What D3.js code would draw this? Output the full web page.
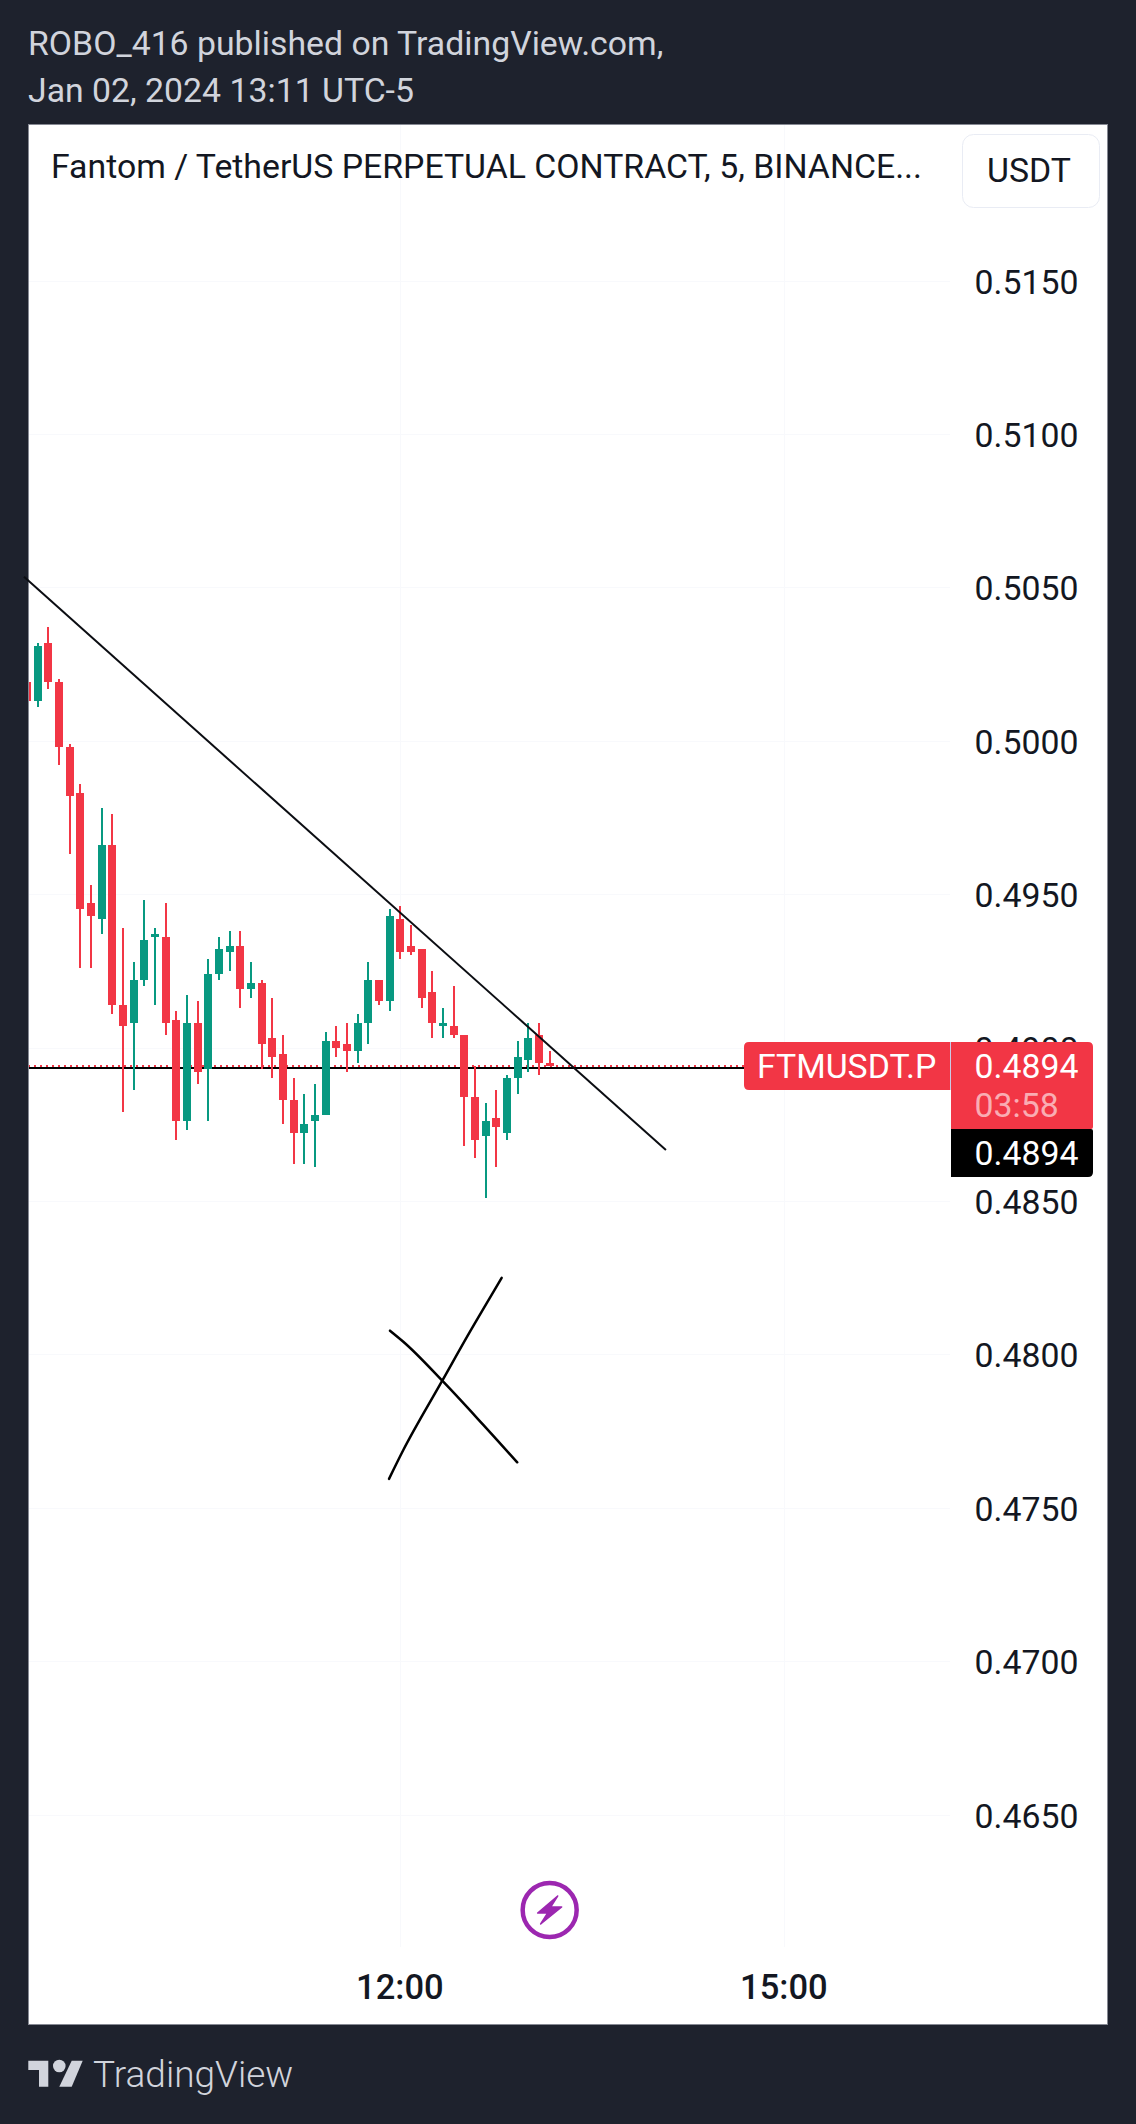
<!DOCTYPE html>
<html><head><meta charset="utf-8">
<script src="https://cdnjs.cloudflare.com/ajax/libs/d3/7.8.5/d3.min.js"></script>
<style>
html,body{margin:0;padding:0;background:#1e222d;width:1136px;height:2124px;overflow:hidden}
svg{display:block}
text{font-family:Roboto,sans-serif}
</style></head><body>
<svg id="c" width="1136" height="2124"></svg>
<script>
// ---- data ----
const opens=[.5019,.5013,.5032,.5019,.4998,.4983,.4947,.4942,.4966,.4914,.4908,.4922,.4936,.4936,.4909,.4876,.4908,.4893,.4924,.4931,.4933,.4919,.4921,.4903,.4898,.4883,.4872,.4876,.4878,.4902,.4901,.4899,.4908,.4922,.4915,.4942,.4933,.4932,.4918,.4908,.4907,.4904,.4884,.4871,.4877,.4872,.4890,.4896,.4904,.4895];
const closes=[.5013,.5031,.5019,.4998,.4982,.4945,.4943,.4966,.4914,.4907,.4922,.4935,.4937,.4908,.4876,.4908,.4892,.4924,.4932,.4933,.4919,.4921,.4901,.4897,.4883,.4872,.4875,.4878,.4902,.4900,.4899,.4908,.4922,.4915,.4943,.4931,.4931,.4916,.4908,.4908,.4904,.4884,.4870,.4876,.4874,.4890,.4897,.4903,.4895,.4894];
const highs=[.5019,.5032,.5037,.5020,.4999,.4986,.4953,.4978,.4976,.4939,.4928,.4948,.4939,.4947,.4912,.4917,.4915,.4929,.4936,.4938,.4938,.4928,.4922,.4916,.4904,.4890,.4885,.4888,.4905,.4907,.4908,.4911,.4928,.4922,.4945,.4946,.4940,.4932,.4925,.4913,.4920,.4904,.4894,.4882,.4886,.4891,.4902,.4908,.4908,.4899];
const lows=[.5013,.5011,.5017,.4992,.4963,.4926,.4926,.4937,.4911,.4879,.4886,.4920,.4914,.4904,.4870,.4873,.4888,.4876,.4922,.4925,.4913,.4916,.4893,.4890,.4875,.4862,.4862,.4861,.4878,.4897,.4892,.4895,.4901,.4914,.4912,.4929,.4930,.4913,.4903,.4903,.4903,.4868,.4864,.4851,.4861,.4870,.4885,.4892,.4891,.4894];
const priceTicks=[.4650,.4700,.4750,.4800,.4850,.4900,.4950,.5000,.5050,.5100,.5150];
const timeTickBars=[35,71];
const timeTickLabels=["12:00","15:00"];
const lastPrice=.4894;
const drawnLevel=.48934;
const trendLine=[[-0.28,.50534],[59.9,.48666]];
const crossStrokeA=[[33.94,.47594],[35.28,.47688],[38.93,.47914],[41.53,.48074],[43.1,.48167],[44.5,.48249]];
const crossStrokeB=[[34.03,.48077],[35.28,.48041],[38.93,.47914],[42.78,.4777],[45.96,.47648]];
const eventBar=49;
const headerLines=["ROBO_416 published on TradingView.com,","Jan 02, 2024 13:11 UTC-5"];
const chartTitle="Fantom / TetherUS PERPETUAL CONTRACT, 5, BINANCE...";

// ---- layout ----
const RED="#f23645",GREEN="#089981",INK="#131722",GRID="#f8f9fc";
const P={l:28,t:124,r:1108,b:2025},axisX=950,axisY=1947;
const x=d3.scaleLinear().domain([0,71]).range([27,784.33]);
const y=d3.scaleLinear().domain([.4650,.5150]).range([1814.5,280.5]);
const svg=d3.select("#c");

headerLines.forEach((t,i)=>svg.append("text").attr("x",28).attr("y",55+i*46.7)
  .attr("font-size",33.8).attr("fill","#d1d4dc").text(t));

svg.append("rect").attr("x",P.l+.5).attr("y",P.t+.5).attr("width",P.r-P.l-1).attr("height",P.b-P.t-1)
  .attr("fill","#fff").attr("stroke","#868993");
svg.append("defs").append("clipPath").attr("id","pane").append("rect")
  .attr("x",P.l+1).attr("y",P.t+1).attr("width",axisX-P.l-1).attr("height",axisY-P.t-1);
const pane=svg.append("g").attr("clip-path","url(#pane)");

// grid
pane.selectAll("line.h").data(priceTicks).join("line").attr("class","h")
  .attr("x1",P.l).attr("x2",axisX).attr("y1",d=>Math.round(y(d))+.5).attr("y2",d=>Math.round(y(d))+.5)
  .attr("stroke",GRID);
pane.selectAll("line.v").data(timeTickBars).join("line").attr("class","v")
  .attr("x1",d=>Math.round(x(d))+.5).attr("x2",d=>Math.round(x(d))+.5).attr("y1",P.t).attr("y2",axisY)
  .attr("stroke",GRID);

// last price dotted line + drawn horizontal
pane.append("line").attr("x1",P.l).attr("x2",744).attr("y1",y(lastPrice)).attr("y2",y(lastPrice))
  .attr("stroke",RED).attr("stroke-width",2).attr("stroke-dasharray","2 4");
pane.append("line").attr("x1",P.l).attr("x2",744).attr("y1",y(drawnLevel)).attr("y2",y(drawnLevel))
  .attr("stroke","#000").attr("stroke-width",2).attr("shape-rendering","crispEdges");

// candles
const bars=opens.map((o,i)=>({i,o,c:closes[i],h:highs[i],l:lows[i]}));
const col=d=>d.c>=d.o?GREEN:RED;
const g=pane.append("g").attr("shape-rendering","crispEdges");
g.selectAll("rect.w").data(bars).join("rect").attr("class","w")
  .attr("x",d=>Math.round(x(d.i))-1).attr("width",2)
  .attr("y",d=>y(d.h)).attr("height",d=>y(d.l)-y(d.h)).attr("fill",col);
g.selectAll("rect.b").data(bars).join("rect").attr("class","b")
  .attr("x",d=>Math.round(x(d.i))-4).attr("width",8)
  .attr("y",d=>y(Math.max(d.o,d.c))).attr("height",d=>Math.max(3,Math.abs(y(d.o)-y(d.c)))).attr("fill",col);

// drawings
const ln=d3.line().x(d=>x(d[0])).y(d=>y(d[1]));
const cv=d3.line().x(d=>x(d[0])).y(d=>y(d[1])).curve(d3.curveCatmullRom.alpha(1));
svg.append("path").attr("d",ln(trendLine)).attr("fill","none").attr("stroke","#0b0d12").attr("stroke-width",2);
[crossStrokeA,crossStrokeB].forEach(s=>svg.append("path").attr("d",cv(s)).attr("fill","none")
  .attr("stroke","#000").attr("stroke-width",2.5).attr("stroke-linecap","round"));

// price axis
const ya=d3.axisRight(y).tickValues(priceTicks).tickFormat(d3.format(".4f")).tickSize(0).tickPadding(24.5);
const yg=svg.append("g").attr("transform",`translate(${axisX},0)`).call(ya);
yg.select(".domain").remove();
yg.selectAll("text").attr("font-size",33.8).attr("fill",INK).attr("font-family","Roboto,sans-serif").attr("dy","0.37em");

// time axis
const xa=d3.axisBottom(x).tickValues(timeTickBars).tickFormat((d,i)=>timeTickLabels[i]).tickSize(0).tickPadding(0);
const xg=svg.append("g").attr("transform",`translate(-1,1987)`).call(xa);
xg.select(".domain").remove();
xg.selectAll("text").attr("font-size",34.5).attr("font-weight",500).attr("fill",INK)
  .attr("font-family","Roboto,sans-serif").attr("y",0).attr("dy","12px");

// title + currency button
svg.append("text").attr("x",51).attr("y",178).attr("font-size",33.8).attr("fill",INK).text(chartTitle);
svg.append("rect").attr("x",962.5).attr("y",134.5).attr("width",137).attr("height",73).attr("rx",11)
  .attr("fill","#fff").attr("stroke","#e9ecf4").attr("stroke-width",1);
svg.append("text").attr("x",1029).attr("y",182).attr("text-anchor","middle").attr("font-size",33.8).attr("fill",INK).text("USDT");

// last price labels
const rr=(x0,y0,x1,y1,tl,tr,br,bl)=>`M${x0+tl},${y0}H${x1-tr}Q${x1},${y0} ${x1},${y0+tr}V${y1-br}Q${x1},${y1} ${x1-br},${y1}H${x0+bl}Q${x0},${y1} ${x0},${y1-bl}V${y0+tl}Q${x0},${y0} ${x0+tl},${y0}Z`;
svg.append("path").attr("d",rr(744,1042,950,1090,5,0,0,5)).attr("fill",RED);
svg.append("rect").attr("x",950).attr("y",1042).attr("width",1).attr("height",48).attr("fill","#c9c9e6");
svg.append("path").attr("d",rr(951,1042,1093,1129,0,5,2,0)).attr("fill",RED);
svg.append("path").attr("d",rr(951,1129,1093,1177,0,2,5,0)).attr("fill","#000");
svg.append("text").attr("x",757).attr("y",1078).attr("font-size",33.8).attr("fill","#fff").text("FTMUSDT.P");
svg.append("text").attr("x",974.5).attr("y",1078).attr("font-size",33.8).attr("fill","#fff").text(d3.format(".4f")(lastPrice));
svg.append("text").attr("x",974.5).attr("y",1117).attr("font-size",33.8).attr("fill","#fff").attr("fill-opacity",.6).text("03:58");
svg.append("text").attr("x",974.5).attr("y",1165).attr("font-size",33.8).attr("fill","#fff").text(d3.format(".4f")(lastPrice));

// event marker
const ev=svg.append("g").attr("transform",`translate(${x(eventBar)},1910)`);
ev.append("circle").attr("r",27).attr("fill","#fff").attr("stroke","#9c27b0").attr("stroke-width",4.5);
ev.append("path").attr("d","M8,-14 L-12,3 L-2,3 L-9,14 L12,-3 L1,-3 Z").attr("fill","#9c27b0")
  .attr("stroke","#9c27b0").attr("stroke-width",1.5).attr("stroke-linejoin","round");

// logo
const logo=svg.append("g").attr("fill","#d1d4dc");
logo.append("path").attr("d","M28.3,2060.7H48.3V2086.7H39V2070H28.3Z");
logo.append("circle").attr("cx",59.3).attr("cy",2066).attr("r",6.3);
logo.append("path").attr("d","M71.7,2060.7H82.7L71.7,2086.7H59.3Z");
svg.append("text").attr("x",93).attr("y",2087).attr("font-size",37).attr("font-weight",300).attr("fill","#d1d4dc").text("TradingView");
</script></body></html>
